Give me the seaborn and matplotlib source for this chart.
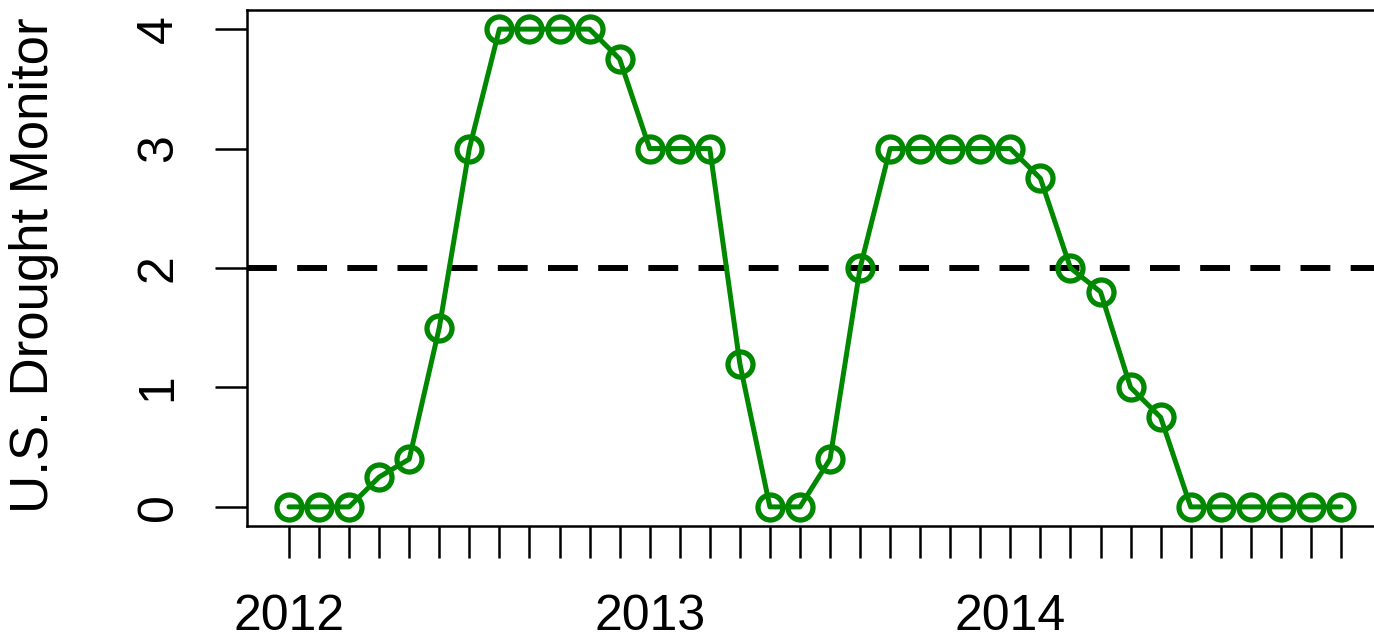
import matplotlib
matplotlib.use("Agg")
import matplotlib.pyplot as plt
import pandas as pd
import seaborn as sns

# Monthly U.S. Drought Monitor category, Jan 2012 - Dec 2014
month_index = list(range(1, 37))
usdm_values = [0, 0, 0, 0.25, 0.4, 1.5, 3, 4, 4, 4, 4, 3.75,
               3, 3, 3, 1.2, 0, 0, 0.4, 2, 3, 3, 3, 3,
               3, 2.75, 2, 1.8, 1, 0.75, 0, 0, 0, 0, 0, 0]
year_labels = ["2012", "2013", "2014"]
year_positions = [1, 13, 25]
y_ticks = [0, 1, 2, 3, 4]
threshold = 2
y_label = "U.S. Drought Monitor"

df = pd.DataFrame({"month": month_index, "usdm": usdm_values})

sns.set_style("white")
plt.rcParams["font.family"] = ["Liberation Sans", "DejaVu Sans"]

fig = plt.figure(figsize=(13.74, 6.41), dpi=100)
ax = fig.add_axes([0.1797, 0.1794, 0.8269, 0.805])

green = "#008800"
sns.lineplot(data=df, x="month", y="usdm", ax=ax, color=green, lw=3.6,
             marker="o", markersize=18, markerfacecolor="none",
             markeredgecolor=green, markeredgewidth=3.8, zorder=3)

ax.axhline(threshold, color="black", lw=4.3, dashes=(5, 3.4), zorder=2)

# R-style 4% padding around the data range
ax.set_xlim(1 - 0.04 * 35, 36 + 0.04 * 35)
ax.set_ylim(-0.16, 4.16)

tick_labels = ["" for _ in month_index]
for pos, lab in zip(year_positions, year_labels):
    tick_labels[pos - 1] = lab
ax.set_xticks(month_index)
ax.set_xticklabels(tick_labels)
ax.set_yticks(y_ticks)
ax.set_yticklabels([str(v) for v in y_ticks], rotation=90, va="center")

ax.tick_params(axis="both", direction="out", length=23, width=1.8,
               color="black", labelsize=36, labelcolor="black")
ax.tick_params(axis="x", pad=26, bottom=True)
ax.tick_params(axis="y", pad=24, left=True)

for side in ["left", "top", "bottom"]:
    ax.spines[side].set_visible(True)
    ax.spines[side].set_color("black")
    ax.spines[side].set_linewidth(1.8)
ax.spines["right"].set_visible(False)

ax.set_xlabel("")
ax.set_ylabel(y_label, fontsize=38, color="black")
ax.yaxis.set_label_coords(-0.1655, 0.505)

ax.set_facecolor("white")
fig.patch.set_facecolor("white")
fig.savefig("out.png", dpi=100)
